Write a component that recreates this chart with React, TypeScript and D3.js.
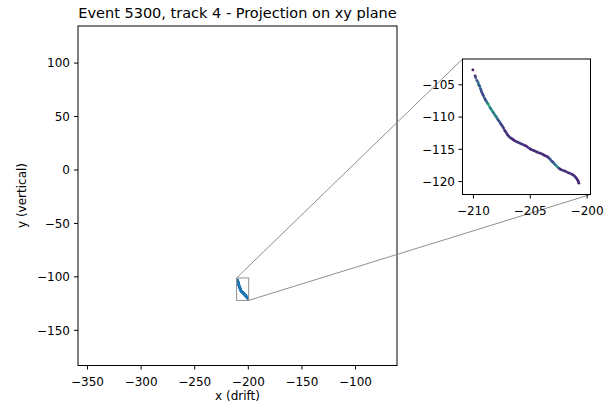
import React from "react";
import * as d3 from "d3";

// Hit positions of track 4 (x = drift, y = vertical) and the per-hit value used for colour
const hitX: number[] = [
  -210.05, -209.85, -209.8, -209.7, -209.6, -209.55, -209.5, -209.45, -209.4, -209.35,
  -209.3, -209.25, -209.18, -209.12, -209.05, -208.98, -208.92, -208.85, -208.78, -208.7,
  -208.62, -208.55, -208.48, -208.4, -208.33, -208.25, -208.18, -208.1, -208.02, -207.95,
  -207.88, -207.8, -207.72, -207.65, -207.57, -207.5, -207.42, -207.35, -207.27, -207.2,
  -207.12, -207.05, -206.97, -206.88, -206.78, -206.68, -206.58, -206.47, -206.35, -206.22,
  -206.1, -205.97, -205.85, -205.72, -205.6, -205.48, -205.35, -205.25, -205.12, -205.0,
  -204.88, -204.75, -204.62, -204.5, -204.38, -204.25, -204.12, -204.0, -203.88, -203.75,
  -203.62, -203.5, -203.4, -203.3, -203.2, -203.1, -203.0, -202.9, -202.8, -202.7,
  -202.6, -202.5, -202.4, -202.28, -202.15, -202.0, -201.85, -201.7, -201.55, -201.42,
  -201.3, -201.18, -201.08, -200.98, -200.9, -200.82, -200.76, -200.72,
];
const hitY: number[] = [
  -102.7, -103.6, -103.9, -104.3, -104.6, -104.9, -105.1, -105.2, -105.5, -105.7,
  -106.0, -106.2, -106.5, -106.7, -107.0, -107.2, -107.4, -107.6, -107.8, -108.0,
  -108.3, -108.5, -108.7, -108.9, -109.1, -109.3, -109.5, -109.7, -109.9, -110.1,
  -110.3, -110.5, -110.7, -110.9, -111.1, -111.3, -111.5, -111.7, -112.0, -112.2,
  -112.4, -112.6, -112.8, -113.0, -113.15, -113.3, -113.4, -113.55, -113.7, -113.8,
  -113.9, -114.0, -114.1, -114.2, -114.3, -114.4, -114.5, -114.65, -114.8, -114.95,
  -115.05, -115.15, -115.25, -115.35, -115.45, -115.55, -115.6, -115.7, -115.8, -115.95,
  -116.05, -116.15, -116.3, -116.45, -116.65, -116.85, -117.0, -117.2, -117.4, -117.55,
  -117.75, -117.9, -118.05, -118.15, -118.25, -118.35, -118.45, -118.6, -118.7, -118.8,
  -118.9, -119.05, -119.2, -119.4, -119.6, -119.8, -120.05, -120.25,
];
const hitValue: number[] = [
  0.05, 0.1, 0.2, 0.25, 0.35, 0.45, 0.3, 0.2, 0.4, 0.25,
  0.2, 0.3, 0.15, 0.2, 0.35, 0.25, 0.2, 0.4, 0.3, 0.5,
  0.7, 0.55, 0.35, 0.5, 0.6, 0.3, 0.45, 0.55, 0.35, 0.5,
  0.3, 0.25, 0.2, 0.3, 0.15, 0.25, 0.2, 0.15, 0.2, 0.1,
  0.15, 0.2, 0.1, 0.15, 0.2, 0.1, 0.12, 0.08, 0.15, 0.1,
  0.12, 0.2, 0.1, 0.15, 0.25, 0.1, 0.08, 0.15, 0.2, 0.1,
  0.12, 0.1, 0.08, 0.15, 0.1, 0.2, 0.12, 0.1, 0.15, 0.08,
  0.1, 0.12, 0.2, 0.15, 0.3, 0.25, 0.2, 0.3, 0.35, 0.45,
  0.5, 0.3, 0.15, 0.1, 0.2, 0.12, 0.1, 0.15, 0.1, 0.2,
  0.12, 0.1, 0.15, 0.1, 0.12, 0.08, 0.1, 0.12,
];

const mainXTicks: number[] = [-350, -300, -250, -200, -150, -100];
const mainYTicks: number[] = [100, 50, 0, -50, -100, -150];
const insetXTicks: number[] = [-210, -205, -200];
const insetYTicks: number[] = [-105, -110, -115, -120];

const mainXDomain: [number, number] = [-358.9, -61.3];
const mainYDomain: [number, number] = [-182.9, 134.7];
const insetXDomain: [number, number] = [-210.96, -199.7];
const insetYDomain: [number, number] = [-122, -101];

const FONT = "DejaVu Sans, sans-serif";
const TICK_SIZE = 12;
const fmt = (v: number) => (v < 0 ? "\u2212" + Math.abs(v) : String(v));

export default function App() {
  const W = 613;
  const H = 403;

  const mx = d3.scaleLinear().domain(mainXDomain).range([78, 397]);
  const my = d3.scaleLinear().domain(mainYDomain).range([365.5, 26]);
  const ix = d3.scaleLinear().domain(insetXDomain).range([462.5, 590.5]);
  const iy = d3.scaleLinear().domain(insetYDomain).range([194.5, 59]);

  const points = hitX.map((x, i) => ({ x, y: hitY[i], v: hitValue[i] }));
  const color = (v: number) => d3.interpolateViridis(v);

  // zoom rectangle in main-axes coordinates
  const rx0 = mx(insetXDomain[0]);
  const rx1 = mx(insetXDomain[1]);
  const ry0 = my(insetYDomain[1]);
  const ry1 = my(insetYDomain[0]);

  const tickLen = 4;
  const grey = "#8f8f8f";

  return (
    <svg width={W} height={H} style={{ position: "absolute", left: 0, top: 0, background: "#fff" }}>
      <rect x={0} y={0} width={W} height={H} fill="#fff" />
      {/* title */}
      <text x={237.5} y={18} textAnchor="middle" fontFamily={FONT} fontSize={14.5} fill="#000">
        Event 5300, track 4 - Projection on xy plane
      </text>

      {/* main axes */}
      <g>
        <clipPath id="mainClip">
          <rect x={78} y={26} width={319} height={339.5} />
        </clipPath>
        <g clipPath="url(#mainClip)">
          {points.map((p, i) => (
            <circle key={i} cx={mx(p.x)} cy={my(p.y)} r={1.3} fill="#1f77b4" />
          ))}
        </g>
        <rect x={78} y={26} width={319} height={339.5} fill="none" stroke="#000" strokeWidth={1} />
        {mainXTicks.map((t) => (
          <g key={t}>
            <line x1={mx(t)} x2={mx(t)} y1={365.5} y2={365.5 + tickLen} stroke="#000" />
            <text x={mx(t)} y={386} textAnchor="middle" fontFamily={FONT} fontSize={TICK_SIZE} fill="#000">
              {fmt(t)}
            </text>
          </g>
        ))}
        {mainYTicks.map((t) => (
          <g key={t}>
            <line x1={78 - tickLen} x2={78} y1={my(t)} y2={my(t)} stroke="#000" />
            <text x={70} y={my(t) + 4.3} textAnchor="end" fontFamily={FONT} fontSize={TICK_SIZE} fill="#000">
              {fmt(t)}
            </text>
          </g>
        ))}
        <text x={237.5} y={400} textAnchor="middle" fontFamily={FONT} fontSize={TICK_SIZE} fill="#000">
          x (drift)
        </text>
        <text
          transform={`translate(26,195.5) rotate(-90)`}
          textAnchor="middle"
          fontFamily={FONT}
          fontSize={TICK_SIZE}
          fill="#000"
        >
          y (vertical)
        </text>
      </g>

      {/* zoom indicator and connectors */}
      <rect x={rx0} y={ry0} width={rx1 - rx0} height={ry1 - ry0} fill="none" stroke={grey} strokeWidth={1} />
      <line x1={rx0} y1={ry0} x2={462.5} y2={59} stroke={grey} strokeWidth={1} />
      <line x1={rx1} y1={ry1} x2={590.5} y2={194.5} stroke={grey} strokeWidth={1} />

      {/* inset axes */}
      <g>
        <rect x={462.5} y={59} width={128} height={135.5} fill="#fff" />
        <clipPath id="insetClip">
          <rect x={462.5} y={59} width={128} height={135.5} />
        </clipPath>
        <g clipPath="url(#insetClip)">
          {points.map((p, i) => (
            <circle key={i} cx={ix(p.x)} cy={iy(p.y)} r={1.4} fill={color(p.v)} />
          ))}
        </g>
        <rect x={462.5} y={59} width={128} height={135.5} fill="none" stroke="#000" strokeWidth={1} />
        {insetXTicks.map((t) => (
          <g key={t}>
            <line x1={ix(t)} x2={ix(t)} y1={194.5} y2={194.5 + tickLen} stroke="#000" />
            <text x={ix(t)} y={215} textAnchor="middle" fontFamily={FONT} fontSize={TICK_SIZE} fill="#000">
              {fmt(t)}
            </text>
          </g>
        ))}
        {insetYTicks.map((t) => (
          <g key={t}>
            <line x1={462.5 - tickLen} x2={462.5} y1={iy(t)} y2={iy(t)} stroke="#000" />
            <text x={455} y={iy(t) + 4.3} textAnchor="end" fontFamily={FONT} fontSize={TICK_SIZE} fill="#000">
              {fmt(t)}
            </text>
          </g>
        ))}
      </g>
    </svg>
  );
}
